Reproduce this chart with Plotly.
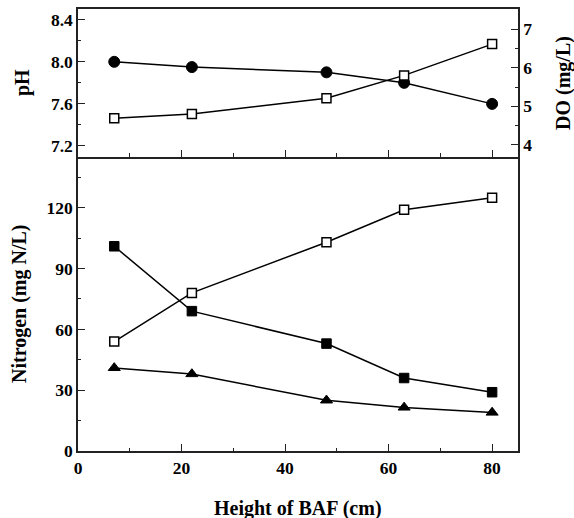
import plotly.graph_objects as go

height_cm = [7, 22, 48, 63, 80]
ph = [8.0, 7.95, 7.9, 7.8, 7.6]
do_mgl = [4.69, 4.80, 5.21, 5.80, 6.61]
n_open_sq = [54, 78, 103, 119, 125]
n_filled_sq = [101, 69, 53, 36, 29]
n_triangle = [41, 38, 25, 21.5, 19]

FONT = "Liberation Serif"
tickfont = dict(family=FONT, size=17.5, color="black", weight="bold")
titlefont = dict(family=FONT, size=20, color="black", weight="bold")
line = dict(color="black", width=1.5)

W, H = 574, 518
ML, MR, MT, MB = 78, 56, 9, 67
PW, PH = W - ML - MR, H - MT - MB

fig = go.Figure()
fig.add_trace(go.Scatter(x=height_cm, y=ph, mode="lines+markers", xaxis="x2", yaxis="y2",
                         line=line, marker=dict(symbol="circle", size=11, color="black",
                                                line=dict(color="black", width=1))))
fig.add_trace(go.Scatter(x=height_cm, y=do_mgl, mode="lines+markers", xaxis="x2", yaxis="y3",
                         line=line, marker=dict(symbol="square", size=9, color="white",
                                                line=dict(color="black", width=1.5))))
fig.add_trace(go.Scatter(x=height_cm, y=n_open_sq, mode="lines+markers", xaxis="x", yaxis="y",
                         line=line, marker=dict(symbol="square", size=9, color="white",
                                                line=dict(color="black", width=1.5))))
fig.add_trace(go.Scatter(x=height_cm, y=n_filled_sq, mode="lines+markers", xaxis="x", yaxis="y",
                         line=line, marker=dict(symbol="square", size=9.5, color="black",
                                                line=dict(color="black", width=1))))
fig.add_trace(go.Scatter(x=height_cm, y=n_triangle, mode="lines+markers", xaxis="x", yaxis="y",
                         line=line, marker=dict(symbol="triangle-up", size=10.5, color="black",
                                                line=dict(color="black", width=1))))

split = 294.3 / PH
axcommon = dict(showline=True, linecolor="#222", linewidth=1.5, showgrid=False, zeroline=False,
                ticks="inside", tickcolor="#222", tickwidth=1.2, ticklen=7)
minor_common = dict(ticklen=3.5, ticks="inside", tickcolor="#222", tickwidth=1.2)

fig.update_layout(
    width=W, height=H, margin=dict(l=ML, r=MR, t=MT, b=MB, autoexpand=False),
    plot_bgcolor="white", paper_bgcolor="white", showlegend=False,
    xaxis=dict(**axcommon, domain=[0, 1], range=[0, 85], tickvals=[0, 20, 40, 60, 80],
               minor=dict(tickvals=[10, 30, 50, 70], **minor_common),
               tickfont=tickfont, anchor="y", automargin=False),
    yaxis=dict(**axcommon, domain=[0, split], range=[0, 145.2], tickvals=[0, 30, 60, 90, 120],
               minor=dict(tickvals=[15, 45, 75, 105, 135], **minor_common),
               tickfont=tickfont, mirror=True, anchor="x", automargin=False),
    xaxis2=dict(**axcommon, domain=[0, 1], range=[0, 85], tickvals=[0, 20, 40, 60, 80],
                minor=dict(tickvals=[10, 30, 50, 70], **minor_common),
                showticklabels=False, anchor="y2", mirror=True),
    yaxis2=dict(**axcommon, domain=[split, 1], range=[7.098, 8.502], tickvals=[7.2, 7.6, 8.0, 8.4],
                ticktext=["7.2", "7.6", "8.0", "8.4"],
                minor=dict(tickvals=[7.4, 7.8, 8.2], **minor_common),
                tickfont=tickfont, anchor="x2", automargin=False),
    yaxis3=dict(**axcommon, range=[3.697, 7.518], tickvals=[4, 5, 6, 7],
                minor=dict(tickvals=[4.5, 5.5, 6.5], **minor_common),
                tickfont=tickfont, overlaying="y2", side="right", anchor="x2", automargin=False),
)

def ann(text, px, py, angle=0):
    fig.add_annotation(text=text, xref="paper", yref="paper",
                       x=(px - ML) / PW, y=(H - MB - py) / PH,
                       xanchor="center", yanchor="middle", showarrow=False,
                       textangle=angle, font=titlefont)

ann("Height of BAF (cm)", 298, 508)
ann("Nitrogen (mg N/L)", 19, 304, -90)
ann("pH", 23, 83, -90)
ann("DO (mg/L)", 564, 83, -90)

fig.write_html("out.html", config={"displayModeBar": False},
               post_script="document.body.style.margin='0';")
